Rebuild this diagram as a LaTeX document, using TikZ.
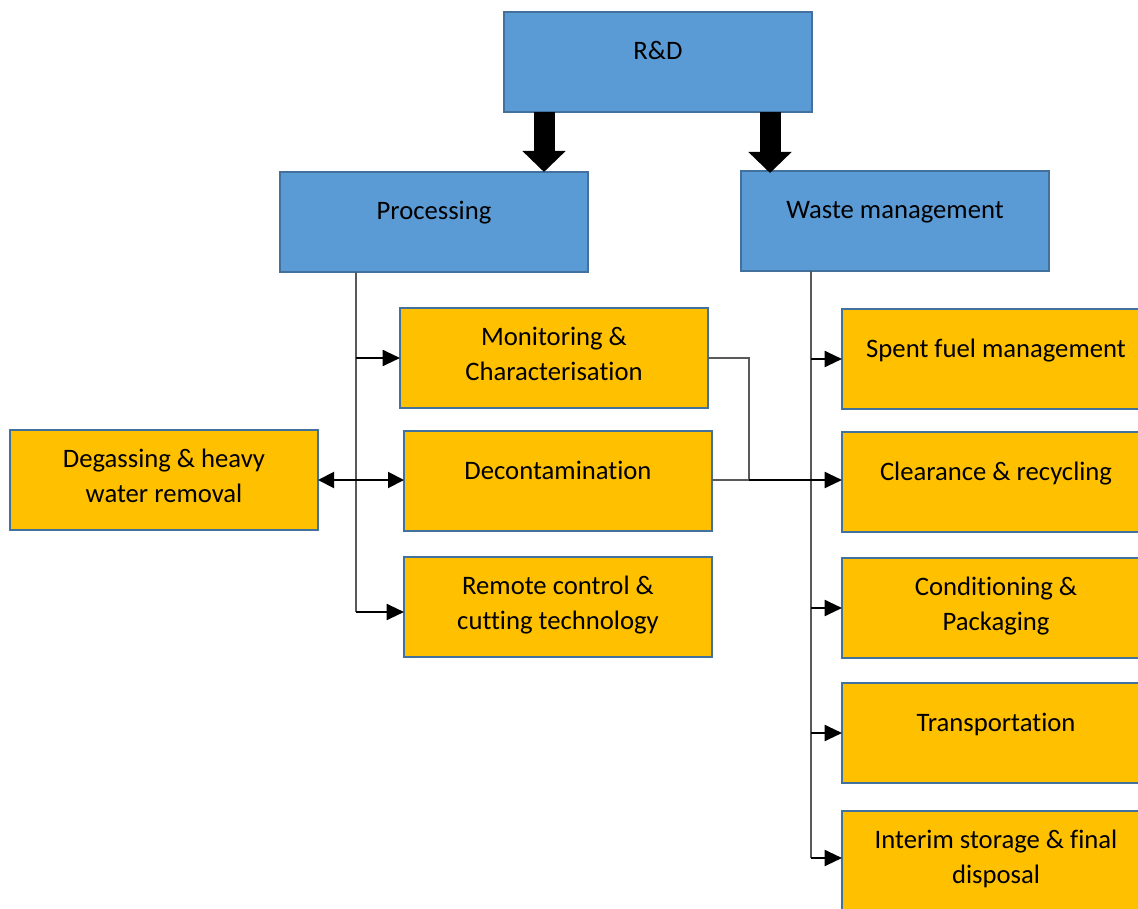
\documentclass[tikz,border=0pt]{standalone}
\usepackage{fontspec}
\setmainfont{Carlito}[Ligatures=NoCommon]
\usetikzlibrary{arrows.meta}
\definecolor{boxblue}{HTML}{5B9BD5}
\definecolor{edgeblue}{HTML}{41719C}
\definecolor{boxgold}{HTML}{FFC000}
\definecolor{linegray}{HTML}{595959}
% box content: fixed 308x100 px area, text starting a given gap below the top
\newcommand\boxlabel[2][17.8pt]{\parbox[c][75pt][t]{231pt}{\centering\vspace*{#1}\strut #2}}
\tikzset{
  card/.style={draw=edgeblue, line width=1.5pt, inner sep=0pt, outer sep=0pt,
    anchor=north west, font=\fontsize{20}{26}\selectfont},
  head/.style={card, fill=boxblue},
  task/.style={card, fill=boxgold},
  trunk/.style={draw=linegray, line width=0.9pt},
  feed/.style={draw=black, line width=1.5pt, -{Triangle[length=13pt,width=12pt]}},
  twoway/.style={draw=black, line width=1.5pt, {Triangle[length=12pt,width=12pt]}-{Triangle[length=12pt,width=12pt]}},
  fat/.style={draw=black, line width=15.75pt, -{Triangle[length=15.75pt,width=31.5pt]}}
}
\begin{document}
\begin{tikzpicture}[x=0.75pt,y=-0.75pt]
\useasboundingbox (0,0) rectangle (1138,909);
\clip (0,0) rectangle (1138,909);

% top level
\node[head] (rd)    at (504,12)  {\boxlabel{R\&D}};
\node[head] (proc)  at (280,172) {\boxlabel{Processing}};
\node[head] (waste) at (741,171) {\boxlabel{Waste management}};

% processing tasks
\node[task] (mon) at (400,308) {\boxlabel[10.2pt]{Monitoring \&\\Characterisation}};
\node[task] (dec) at (404,431) {\boxlabel{Decontamination}};
\node[task] (rem) at (404,557) {\boxlabel[10.2pt]{Remote control \&\\cutting technology}};
\node[task] (deg) at (10,430)  {\boxlabel[10.2pt]{Degassing \& heavy\\water removal}};

% waste management tasks
\node[task] (spent) at (842,309) {\boxlabel{Spent fuel management}};
\node[task] (clr)   at (842,432) {\boxlabel{Clearance \& recycling}};
\node[task] (cond)  at (842,558) {\boxlabel[10.2pt]{Conditioning \&\\Packaging}};
\node[task] (trans) at (842,683) {\boxlabel{Transportation}};
\node[task] (stor)  at (842,811) {\boxlabel[10.2pt]{Interim storage \& final\\disposal}};

% block arrows from R&D
\coordinate (fl) at (544,0);
\coordinate (fr) at (770,0);
\draw[fat] (rd.south -| fl) -- (proc.north -| fl);
\draw[fat] (rd.south -| fr) -- ([yshift=-1.5pt]waste.north -| fr);

% processing trunk
\coordinate (pt) at (356,612);
\draw[trunk] (proc.south -| pt) -- (pt);
\draw[feed] (pt |- mon.west) -- (mon.west);
\draw[feed] (pt) -- (pt -| rem.west);
\draw[twoway] (deg.east) -- (deg.east -| dec.west);

% waste management trunk
\coordinate (wt) at (811,858);
\draw[trunk] (waste.south -| wt) -- (wt);
\draw[feed] (wt |- spent.west) -- (spent.west);
\draw[feed] (wt |- cond.west) -- (cond.west);
\draw[feed] (wt |- trans.west) -- (trans.west);
\draw[feed] (wt) -- (wt -| stor.west);

% links into clearance & recycling
\coordinate (jn) at (749,480);
\draw[trunk] (mon.east) -| (jn);
\draw[trunk] (dec.east |- jn) -- (jn);
\draw[feed] (jn) -- (jn -| clr.west);
\end{tikzpicture}
\end{document}
